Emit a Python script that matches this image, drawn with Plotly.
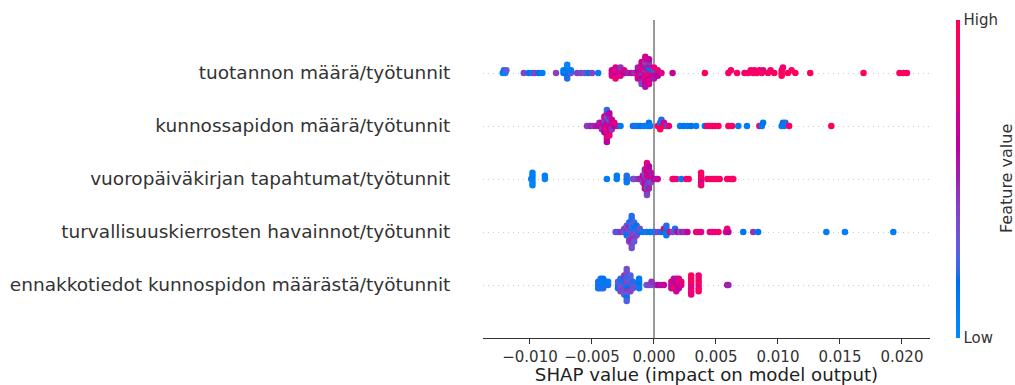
import numpy as np
import plotly.graph_objects as go

# Feature names, listed from the top row to the bottom row
features = [
    "tuotannon määrä/työtunnit",
    "kunnossapidon määrä/työtunnit",
    "vuoropäiväkirjan tapahtumat/työtunnit",
    "turvallisuuskierrosten havainnot/työtunnit",
    "ennakkotiedot kunnospidon määrästä/työtunnit",
]

# SHAP values and normalised feature values (0 = low, 1 = high) per feature
shap_tuotannon = [
    -0.0122, -0.0121, -0.0120, -0.0119,
    -0.0105, -0.0101, -0.0098, -0.0096, -0.0093, -0.0090, -0.0079,
    -0.0073, -0.0073, -0.0070, -0.0070, -0.0070, -0.0070, -0.0070, -0.0070, -0.0067, -0.0067,
    -0.0062, -0.0059, -0.0056, -0.0053, -0.0050, -0.0045,
    -0.0034, -0.0034, -0.0034, -0.0031, -0.0031, -0.0031, -0.0031, -0.0031,
    -0.0027, -0.0027, -0.0027, -0.0027, -0.0024, -0.0024, -0.0021, -0.0018, -0.0016,
    -0.0013, -0.0013, -0.0013, -0.0013,
    -0.0010, -0.0010, -0.0010, -0.0010, -0.0010, -0.0010, -0.0010, -0.0010, -0.0010,
    -0.0007, -0.0007, -0.0007, -0.0007, -0.0007, -0.0007,
    -0.0007, -0.0007, -0.0007, -0.0007, -0.0007, -0.0007,
    -0.0004, -0.0004, -0.0004, -0.0004, -0.0004,
    -0.0004, -0.0004, -0.0004, -0.0004, -0.0004,
    0.0000, 0.0000, 0.0000, 0.0000, 0.0000,
    0.0003, 0.0003, 0.0003,
    0.0006, 0.0015, 0.0041,
    0.0060, 0.0062, 0.0067,
    0.0073, 0.0076, 0.0078, 0.0080, 0.0081, 0.0083, 0.0085, 0.0087, 0.0088,
    0.0092, 0.0094, 0.0097,
    0.0103, 0.0103, 0.0103, 0.0104,
    0.0108, 0.0111, 0.0114,
    0.0126, 0.0169, 0.0198, 0.0201, 0.0204,
]
fv_tuotannon = [
    0.10, 0.15, 0.05, 0.30,
    0.40, 0.15, 0.20, 0.40, 0.15, 0.10, 0.40,
    0.15, 0.10, 0.05, 0.10, 0.15, 0.10, 0.20, 0.05, 0.30, 0.10,
    0.40, 0.40, 0.35, 0.15, 0.40, 0.10,
    0.80, 0.65, 0.75, 0.70, 0.80, 0.60, 0.75, 0.85,
    0.70, 0.55, 0.75, 0.45, 0.60, 0.75, 0.50, 0.65, 0.45,
    0.60, 0.75, 0.50, 0.70,
    0.55, 0.75, 0.45, 0.80, 0.60, 0.70, 0.50, 0.65, 0.40,
    0.60, 0.45, 0.75, 0.55, 0.80, 0.50,
    0.70, 0.40, 0.65, 0.75, 0.55, 0.70,
    0.70, 0.50, 0.80, 0.15, 0.65,
    0.55, 0.75, 0.45, 0.70, 0.60,
    0.75, 0.10, 0.65, 0.80, 0.55,
    0.70, 0.80, 0.60,
    0.75, 0.65, 0.95,
    0.95, 0.90, 0.95,
    0.85, 0.95, 0.90, 0.95, 0.85, 0.90, 0.95, 0.90, 0.80,
    0.95, 0.90, 0.95,
    0.95, 0.90, 0.95, 0.85,
    0.95, 0.90, 0.95,
    0.95, 0.95, 0.95, 0.95, 0.95,
]

shap_kunnossapidon = [
    -0.0054, -0.0052, -0.0051, -0.0049, -0.0047,
    -0.0044, -0.0044, -0.0042, -0.0042, -0.0042,
    -0.0040, -0.0040, -0.0040, -0.0040, -0.0040, -0.0040,
    -0.0038, -0.0038, -0.0038, -0.0038, -0.0038, -0.0038,
    -0.0038, -0.0038, -0.0038, -0.0038, -0.0038,
    -0.0036, -0.0036, -0.0036, -0.0036, -0.0036, -0.0036, -0.0036, -0.0036,
    -0.0034, -0.0034, -0.0034, -0.0034,
    -0.0032, -0.0032, -0.0029, -0.0027,
    -0.0017, -0.0015, -0.0013, -0.0011, -0.0008,
    -0.0005, -0.0004, -0.0003,
    0.0003, 0.0005, 0.0005, 0.0005, 0.0006, 0.0007, 0.0008, 0.0010, 0.0011, 0.0012,
    0.0021, 0.0024, 0.0027, 0.0030, 0.0034,
    0.0041, 0.0043, 0.0045, 0.0047, 0.0049, 0.0052,
    0.0060, 0.0063,
    0.0068, 0.0075,
    0.0085, 0.0087, 0.0088,
    0.0103, 0.0104, 0.0105, 0.0106, 0.0109,
    0.0143,
]
fv_kunnossapidon = [
    0.45, 0.40, 0.50, 0.45, 0.55,
    0.60, 0.50, 0.55, 0.70, 0.45,
    0.65, 0.50, 0.75, 0.40, 0.60, 0.70,
    0.70, 0.60, 0.80, 0.50, 0.75, 0.30,
    0.65, 0.55, 0.80, 0.20, 0.60,
    0.75, 0.55, 0.65, 0.25, 0.70, 0.50, 0.80, 0.60,
    0.55, 0.70, 0.45, 0.65,
    0.60, 0.75, 0.70, 0.10,
    0.15, 0.20, 0.10, 0.15, 0.10,
    0.10, 0.15, 0.10,
    0.90, 0.80, 0.10, 0.95, 0.20, 0.90, 0.70, 0.85, 0.10, 0.80,
    0.10, 0.15, 0.10, 0.15, 0.10,
    0.15, 0.95, 0.90, 0.95, 0.85, 0.95,
    0.95, 0.90,
    0.10, 0.10,
    0.85, 0.10, 0.15,
    0.10, 0.15, 0.10, 0.20, 0.90,
    0.95,
]

shap_vuoropaivakirjan = [
    -0.0099, -0.0098, -0.0098, -0.0098, -0.0098, -0.0098,
    -0.0088, -0.0088,
    -0.0038, -0.0030, -0.0030, -0.0022, -0.0022, -0.0022,
    -0.0017, -0.0016, -0.0013, -0.0011,
    -0.00090, -0.00090, -0.00090,
    -0.00074, -0.00074, -0.00074, -0.00074, -0.00074, -0.00074, -0.00074,
    -0.00057, -0.00057, -0.00057, -0.00057, -0.00057, -0.00057,
    -0.00057, -0.00057, -0.00057, -0.00057, -0.00057,
    -0.00041, -0.00041, -0.00041, -0.00041, -0.00041, -0.00041, -0.00041, -0.00041,
    -0.00025, -0.00025, -0.00025, -0.00025,
    0.0000, 0.0002, 0.0003,
    0.0015, 0.0016, 0.0018, 0.0022, 0.0026, 0.0028,
    0.0038, 0.0038, 0.0038, 0.0038, 0.0038,
    0.0043, 0.0045, 0.0047, 0.0049, 0.0051, 0.0053,
    0.0059, 0.0061, 0.0063, 0.0064,
]
fv_vuoropaivakirjan = [
    0.10, 0.05, 0.10, 0.05, 0.08, 0.05,
    0.05, 0.08,
    0.10, 0.10, 0.12, 0.15, 0.20, 0.10,
    0.40, 0.35, 0.45, 0.50,
    0.45, 0.60, 0.35,
    0.65, 0.40, 0.75, 0.30, 0.60, 0.50, 0.70,
    0.35, 0.65, 0.55, 0.75, 0.45, 0.60,
    0.20, 0.70, 0.50, 0.80, 0.40,
    0.55, 0.70, 0.20, 0.65, 0.45, 0.75, 0.50, 0.60,
    0.60, 0.70, 0.40, 0.55,
    0.60, 0.50, 0.65,
    0.85, 0.90, 0.80, 0.10, 0.85, 0.90,
    0.80, 0.95, 0.70, 0.90, 0.85,
    0.90, 0.95, 0.85, 0.90, 0.95, 0.90,
    0.95, 0.90, 0.95, 0.90,
]

shap_turvallisuus = [
    -0.0031, -0.0029, -0.0027,
    -0.0024, -0.0024,
    -0.0022, -0.0022, -0.0022, -0.0022,
    -0.0020, -0.0020, -0.0020, -0.0020, -0.0020, -0.0020, -0.0020,
    -0.0018, -0.0018, -0.0018, -0.0018, -0.0018, -0.0018,
    -0.0018, -0.0018, -0.0018, -0.0018, -0.0018,
    -0.0016, -0.0016, -0.0016, -0.0016, -0.0016, -0.0016, -0.0016,
    -0.0014, -0.0014, -0.0014, -0.0014,
    -0.00115, -0.00115,
    -0.0009, -0.0006, -0.0003, -0.0001,
    0.0001, 0.0003, 0.0006,
    0.0008, 0.0010, 0.0010, 0.0010, 0.0010, 0.0013,
    0.0015, 0.0017, 0.0019, 0.0021, 0.0023, 0.0025, 0.0027,
    0.0034, 0.0036, 0.0038,
    0.0045, 0.0047, 0.0049, 0.0052,
    0.0058, 0.0059, 0.0060,
    0.0072, 0.0080, 0.0084,
    0.0139, 0.0154, 0.0193,
]
fv_turvallisuus = [
    0.40, 0.20, 0.45,
    0.30, 0.40,
    0.20, 0.45, 0.15, 0.35,
    0.25, 0.40, 0.15, 0.50, 0.30, 0.20, 0.45,
    0.35, 0.10, 0.40, 0.25, 0.45, 0.30,
    0.50, 0.15, 0.40, 0.20, 0.35,
    0.40, 0.20, 0.35, 0.15, 0.45, 0.25, 0.30,
    0.30, 0.20, 0.40, 0.15,
    0.15, 0.35,
    0.10, 0.20, 0.15, 0.10,
    0.20, 0.40, 0.15,
    0.90, 0.10, 0.15, 0.10, 0.20, 0.85,
    0.40, 0.20, 0.60, 0.35, 0.50, 0.45, 0.65,
    0.80, 0.85, 0.75,
    0.80, 0.85, 0.80, 0.90,
    0.80, 0.90, 0.60,
    0.15, 0.45, 0.15,
    0.10, 0.10, 0.10,
]

shap_ennakkotiedot = [
    -0.0045, -0.0045, -0.0045, -0.0043, -0.0043, -0.0043, -0.0043,
    -0.0041, -0.0041, -0.0041, -0.0041, -0.0039, -0.0039, -0.0037, -0.0037,
    -0.0029, -0.0029, -0.0029,
    -0.0027, -0.0027, -0.0027, -0.0027, -0.0027,
    -0.0024, -0.0024, -0.0024, -0.0024, -0.0024, -0.0024, -0.0024,
    -0.0022, -0.0022, -0.0022, -0.0022, -0.0022, -0.0022,
    -0.0022, -0.0022, -0.0022, -0.0022, -0.0022,
    -0.0019, -0.0019, -0.0019, -0.0019, -0.0019, -0.0019,
    -0.0017, -0.0017, -0.0017,
    -0.0012, -0.0012, -0.0012, -0.0012,
    -0.0006, -0.0004, -0.0002, -0.0002,
    0.0002, 0.0004, 0.0006, 0.0008,
    0.0014, 0.0014, 0.0014,
    0.0016, 0.0016, 0.0016, 0.0016,
    0.0018, 0.0018, 0.0018, 0.0018, 0.0018,
    0.0020, 0.0020, 0.0020, 0.0020,
    0.0022, 0.0022,
    0.0030, 0.0030, 0.0030, 0.0030, 0.0030, 0.0030, 0.0030,
    0.0036, 0.0036, 0.0036, 0.0036, 0.0036, 0.0036,
    0.0059, 0.0060,
]
fv_ennakkotiedot = [
    0.10, 0.20, 0.12, 0.15, 0.10, 0.20, 0.12,
    0.15, 0.10, 0.20, 0.15, 0.10, 0.15, 0.20, 0.10,
    0.20, 0.30, 0.15,
    0.35, 0.25, 0.30, 0.20, 0.40,
    0.30, 0.20, 0.40, 0.15, 0.35, 0.45, 0.25,
    0.25, 0.40, 0.15, 0.35, 0.45, 0.20,
    0.30, 0.40, 0.15, 0.35, 0.25,
    0.20, 0.35, 0.15, 0.30, 0.40, 0.25,
    0.30, 0.20, 0.35,
    0.10, 0.15, 0.10, 0.12,
    0.30, 0.40, 0.35, 0.45,
    0.50, 0.60, 0.55, 0.65,
    0.60, 0.75, 0.55,
    0.70, 0.55, 0.80, 0.65,
    0.75, 0.60, 0.85, 0.55, 0.70,
    0.65, 0.80, 0.60, 0.75,
    0.70, 0.80,
    0.80, 0.95, 0.75, 0.90, 0.85, 0.95, 0.80,
    0.85, 0.95, 0.80, 0.90, 0.95, 0.85,
    0.55, 0.50,
]

rows_shap = [shap_tuotannon, shap_kunnossapidon, shap_vuoropaivakirjan,
             shap_turvallisuus, shap_ennakkotiedot]
rows_fv = [fv_tuotannon, fv_kunnossapidon, fv_vuoropaivakirjan,
           fv_turvallisuus, fv_ennakkotiedot]

x_tick_vals = [-0.010, -0.005, 0.000, 0.005, 0.010, 0.015, 0.020]
x_tick_text = ["\u22120.010", "\u22120.005", "0.000", "0.005", "0.010", "0.015", "0.020"]
x_range = [-0.01379, 0.02226]


def lch_to_rgb(L, C, h):
    a = C * np.cos(h)
    b = C * np.sin(h)
    fy = (L + 16.0) / 116.0
    fx = fy + a / 500.0
    fz = fy - b / 200.0

    def finv(t):
        t3 = t ** 3
        return t3 if t3 > 0.008856 else (t - 16.0 / 116.0) / 7.787

    X = 0.95047 * finv(fx)
    Y = 1.00000 * finv(fy)
    Z = 1.08883 * finv(fz)
    r = 3.2406 * X - 1.5372 * Y - 0.4986 * Z
    g = -0.9689 * X + 1.8758 * Y + 0.0415 * Z
    bb = 0.0557 * X - 0.2040 * Y + 1.0570 * Z
    out = []
    for v in (r, g, bb):
        v = max(v, 0.0)
        v = 1.055 * v ** (1 / 2.4) - 0.055 if v > 0.0031308 else 12.92 * v
        out.append(int(round(min(max(v, 0.0), 1.0) * 255)))
    return out


def red_blue_scale(nsteps=100):
    blue_lch = [54.0, 70.0, 4.6588]
    red_lch = [54.0, 90.0, 0.35470565 + 2 * np.pi]
    l_mid = 40.0
    l_vals = list(np.linspace(blue_lch[0], l_mid, nsteps // 2)) + \
        list(np.linspace(l_mid, red_lch[0], nsteps // 2))
    c_vals = np.linspace(blue_lch[1], red_lch[1], nsteps)
    h_vals = np.linspace(blue_lch[2], red_lch[2], nsteps)
    scale = []
    for i in range(nsteps):
        r, g, b = lch_to_rgb(l_vals[i], c_vals[i], h_vals[i])
        scale.append([i / (nsteps - 1), f"rgb({r},{g},{b})"])
    return scale


def swarm_offsets(vals, nbins=100, row_height=0.4):
    """Beeswarm offsets: points sharing a bin are stacked alternately up/down."""
    vals = np.asarray(vals, dtype=float)
    quant = np.round(nbins * (vals - vals.min()) / (vals.max() - vals.min() + 1e-8))
    inds = np.argsort(quant, kind="stable")
    ys = np.zeros(len(vals))
    layer = 0
    last_bin = -1
    for ind in inds:
        if quant[ind] != last_bin:
            layer = 0
        ys[ind] = np.ceil(layer / 2) * ((layer % 2) * 2 - 1)
        layer += 1
        last_bin = quant[ind]
    ys *= 0.9 * (row_height / np.max(ys + 1))
    return ys


n_rows = len(features)
xs, ys, cs = [], [], []
for i, (vals, fv) in enumerate(zip(rows_shap, rows_fv)):
    pos = n_rows - 1 - i
    off = swarm_offsets(vals)
    xs.extend(vals)
    ys.extend(list(pos + off))
    cs.extend(fv)

font_family = "DejaVu Sans"
axis_color = "#333333"

fig = go.Figure()
fig.add_trace(go.Scatter(
    x=xs, y=ys, mode="markers", hoverinfo="skip",
    marker=dict(
        size=6.5, color=cs, cmin=0, cmax=1,
        colorscale=red_blue_scale(), line=dict(width=0), opacity=1,
        colorbar=dict(
            thickness=4, lenmode="fraction", len=1,
            x=(956 - 483) / 447, xanchor="left", xpad=0,
            y=0.5, yanchor="middle", ypad=0,
            outlinewidth=0, ticks="", ticklen=0,
            tickvals=[0, 1], ticktext=["Low", "High"],
            tickfont=dict(family=font_family, size=15, color=axis_color),
        ),
    ),
    showlegend=False,
))

fig.add_annotation(
    text="Feature value", textangle=-90, showarrow=False,
    xref="paper", yref="paper", x=(1006 - 483) / 447, y=0.5,
    xanchor="center", yanchor="middle",
    font=dict(family=font_family, size=16, color=axis_color),
)

fig.update_layout(
    width=1015, height=385,
    margin=dict(l=483, r=85, t=20, b=47),
    paper_bgcolor="white", plot_bgcolor="white",
    font=dict(family=font_family, color=axis_color),
    xaxis=dict(
        range=x_range, tickvals=x_tick_vals, ticktext=x_tick_text,
        showgrid=False, zeroline=True, zerolinecolor="#999999", zerolinewidth=1.5,
        showline=True, linecolor=axis_color, linewidth=1,
        ticks="outside", ticklen=5, tickwidth=1, tickcolor=axis_color,
        tickfont=dict(family=font_family, size=15, color=axis_color),
        title=dict(text="SHAP value (impact on model output)", standoff=4,
                   font=dict(family=font_family, size=18.2, color="#222222")),
        automargin=False, fixedrange=True,
    ),
    yaxis=dict(
        range=[-1, n_rows], tickvals=list(range(n_rows)),
        ticktext=list(reversed(features)),
        showgrid=True, gridcolor="#cccccc", gridwidth=1, griddash="1px,4px",
        zeroline=False, showline=False,
        ticks="outside", ticklen=28, tickcolor="rgba(0,0,0,0)",
        tickfont=dict(family=font_family, size=18.5, color=axis_color),
        automargin=False, fixedrange=True,
    ),
)

fig.write_html("out.html")
